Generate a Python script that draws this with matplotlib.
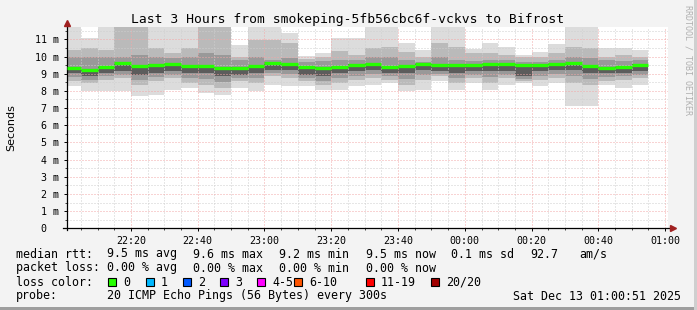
import matplotlib
matplotlib.use("Agg")
import matplotlib.pyplot as plt
import numpy as np
from matplotlib.patches import Rectangle

# 5 minute steps, minutes after 22:00 (first step is partial, starts at 22:00:51)
start_min = 0.85
end_min = 180.85
step_ends = np.arange(5, 176, 5)

# median rtt per step (ms)
median = [9.34, 9.22, 9.40, 9.61, 9.46, 9.51, 9.57, 9.46, 9.46, 9.34, 9.34, 9.46,
          9.63, 9.59, 9.40, 9.34, 9.40, 9.53, 9.59, 9.40, 9.46, 9.57, 9.53, 9.53,
          9.53, 9.57, 9.57, 9.48, 9.53, 9.57, 9.63, 9.46, 9.32, 9.40, 9.53]

# smoke: slowest / fastest pings (ms)
outer_hi = [12.0, 11.06, 12.0, 12.0, 12.0, 12.0, 12.0, 12.0, 12.0, 12.0, 10.67, 12.0,
            12.0, 11.35, 10.04, 10.19, 11.06, 11.06, 12.0, 12.0, 10.77, 10.38, 12.0, 12.0,
            10.42, 10.77, 10.54, 10.10, 10.29, 10.73, 12.0, 12.0, 10.48, 10.48, 10.38]
outer_lo = [8.26, 7.97, 7.97, 7.97, 7.68, 7.78, 8.07, 8.17, 7.88, 7.78, 8.17, 7.97,
            8.36, 8.30, 8.26, 8.07, 8.07, 8.26, 8.36, 8.45, 7.97, 8.07, 8.55, 8.07,
            8.45, 8.07, 8.36, 8.45, 8.26, 8.45, 7.14, 7.14, 8.36, 8.17, 8.36]
mid_hi = [10.40, 10.48, 10.38, 12.0, 12.0, 10.48, 10.19, 10.48, 12.0, 12.0, 10.00, 10.96,
          10.96, 10.77, 9.85, 9.95, 10.30, 10.10, 10.48, 10.58, 10.29, 10.00, 10.77, 10.58,
          10.20, 10.19, 10.10, 9.95, 10.00, 10.19, 10.58, 10.48, 10.00, 10.10, 10.00]
mid_lo = [8.55, 8.45, 8.65, 8.75, 8.36, 8.55, 8.75, 8.45, 8.36, 8.17, 8.55, 8.45,
          8.84, 8.75, 8.55, 8.36, 8.45, 8.65, 8.75, 8.65, 8.36, 8.65, 8.84, 8.45,
          8.75, 8.45, 8.75, 8.55, 8.65, 8.75, 8.45, 8.36, 8.55, 8.65, 8.75]
inner_hi = [10.00, 10.00, 10.00, 10.00, 10.10, 10.00, 9.90, 10.00, 10.19, 10.10, 9.81, 10.00,
            9.81, 9.90, 9.71, 9.75, 9.81, 9.81, 10.00, 10.00, 9.81, 9.71, 10.00, 9.81,
            9.75, 9.81, 9.81, 9.70, 9.71, 9.81, 10.00, 9.90, 9.81, 9.75, 9.80]
inner_lo = [8.80, 8.65, 8.85, 8.94, 8.65, 8.80, 8.94, 8.75, 8.70, 8.50, 8.75, 8.75,
            9.04, 8.99, 8.75, 8.60, 8.75, 8.89, 8.99, 8.85, 8.70, 8.94, 8.99, 8.75,
            8.94, 8.79, 8.94, 8.70, 8.89, 8.99, 8.84, 8.70, 8.80, 8.85, 8.94]
core_hi = [9.40, 9.28, 9.46, 9.67, 9.52, 9.57, 9.63, 9.52, 9.52, 9.40, 9.40, 9.52,
           9.69, 9.65, 9.46, 9.40, 9.46, 9.59, 9.65, 9.46, 9.52, 9.63, 9.59, 9.59,
           9.59, 9.63, 9.63, 9.54, 9.59, 9.63, 9.69, 9.52, 9.38, 9.46, 9.59]
core_lo = [9.04, 8.84, 9.04, 9.13, 8.94, 9.04, 9.13, 9.04, 9.04, 8.84, 8.94, 9.04,
           9.23, 9.23, 8.94, 8.84, 9.04, 9.13, 9.23, 9.04, 9.04, 9.23, 9.13, 9.04,
           9.13, 9.13, 9.13, 8.84, 9.13, 9.23, 9.23, 9.04, 9.04, 9.04, 9.13]

x_tick_pos = [20, 40, 60, 80, 100, 120, 140, 160, 180]
x_tick_labels = ["22:20", "22:40", "23:00", "23:20", "23:40", "00:00", "00:20", "00:40", "01:00"]
y_tick_pos = list(range(12))
y_tick_labels = ["0  "] + ["{} m".format(v) for v in range(1, 12)]

loss_labels = ["0", "1", "2", "3", "4-5", "6-10", "11-19", "20/20"]
loss_colors = ["#26ff00", "#00b8ff", "#0059ff", "#7e00ff", "#ff00ff", "#ff5500", "#ff0000", "#a10000"]

W, H = 697, 310
MONO = "DejaVu Sans Mono"


def px(x, y):
    # pixel position (from top left) -> figure fraction
    return x / W, 1 - y / H


fig = plt.figure(figsize=(W / 100, H / 100), dpi=100, facecolor="#f3f3f3")

# 3d frame
fig.add_artist(Rectangle((0, 0), 1, 3 / H, transform=fig.transFigure, color="#9e9e9e", lw=0))
fig.add_artist(Rectangle((1 - 3 / W, 0), 3 / W, 1, transform=fig.transFigure, color="#cfcfcf", lw=0))

ax = fig.add_axes([67 / W, 1 - 228.3 / H, 601 / W, 201.3 / H])
ax.set_facecolor("white")
ax.set_xlim(start_min, end_min)
ax.set_ylim(0, 11.72)

edges = np.concatenate([[start_min], step_ends])
layers = [
    (outer_lo, outer_hi, "#dcdcdc"),
    (mid_lo, mid_hi, "#bababa"),
    (inner_lo, inner_hi, "#999999"),
    (core_lo, core_hi, "#5c5c5c"),
]
for lo, hi, color in layers:
    ax.stairs(hi, edges, baseline=lo, fill=True, color=color, lw=0, zorder=1)

ax.hlines(median, edges[:-1], edges[1:], colors="#26ff00", lw=2.4, zorder=6,
          capstyle="butt")

# grid on top of the smoke, like rrdtool
ax.set_axisbelow(False)
ax.set_xticks(x_tick_pos)
ax.set_xticklabels(x_tick_labels, family=MONO, fontsize=7.2)
ax.set_xticks(np.arange(5, 181, 5), minor=True)
ax.set_yticks(y_tick_pos)
ax.set_yticklabels(y_tick_labels, family=MONO, fontsize=7.2)
ax.set_yticks(np.arange(0.5, 11.6, 1.0), minor=True)
ax.grid(which="minor", color="#cfcfcf", ls=(0, (1, 2)), lw=0.72)
ax.grid(which="major", color="#f2a8a8", ls=(0, (1, 2)), lw=0.72)
ax.tick_params(which="major", length=2, width=0.7, pad=3.5)
ax.tick_params(which="minor", length=1.2, width=0.5)

for s in ax.spines.values():
    s.set_visible(False)
ax.plot([-0.007, 1.006], [0, 0], transform=ax.transAxes, color="black", lw=0.9, clip_on=False, zorder=4)
ax.plot([0, 0], [-0.01, 1.01], transform=ax.transAxes, color="black", lw=0.9, clip_on=False, zorder=4)
ax.plot([1.008], [0], transform=ax.transAxes, marker=">", ms=4, color="#a02020", clip_on=False, zorder=5)
ax.plot([0], [1.02], transform=ax.transAxes, marker="^", ms=4, color="#a02020", clip_on=False, zorder=5)

fig.text(*px(347.5, 19), "Last 3 Hours from smokeping-5fb56cbc6f-vckvs to Bifrost",
         family=MONO, fontsize=9.4, ha="center", va="center")
fig.text(*px(11, 128), "Seconds", rotation=90, fontsize=8, ha="center", va="center")
fig.text(*px(688, 5), "RRDTOOL / TOBI OETIKER", rotation=270, family=MONO, fontsize=6,
         color="#b0b0b0", ha="center", va="top")

fs = 8.4
rows = [
    (254, [(16, "median rtt:"), (107, "9.5 ms avg"), (193, "9.6 ms max"), (279, "9.2 ms min"),
           (366, "9.5 ms now"), (451, "0.1 ms sd"), (530, "92.7"), (579, "am/s")]),
    (268, [(16, "packet loss:"), (107, "0.00 % avg"), (193, "0.00 % max"), (279, "0.00 % min"),
           (366, "0.00 % now")]),
    (282, [(16, "loss color:")]),
    (296, [(16, "probe:"), (107, "20 ICMP Echo Pings (56 Bytes) every 300s"),
           (513, "Sat Dec 13 01:00:51 2025")]),
]
for y, items in rows:
    for x, s in items:
        fig.text(*px(x, y), s, family=MONO, fontsize=fs, va="center")

box_x = [108, 145.5, 182.5, 219.5, 256.5, 293.5, 365.5, 430.5]
for bx, label, color in zip(box_x, loss_labels, loss_colors):
    fig.add_artist(Rectangle(px(bx, 286), 8 / W, 8 / H, transform=fig.transFigure,
                             facecolor=color, edgecolor="black", lw=0.8))
    fig.text(*px(bx + 15.5, 282), label, family=MONO, fontsize=fs, va="center")

fig.savefig("out.png", dpi=100, facecolor=fig.get_facecolor())
